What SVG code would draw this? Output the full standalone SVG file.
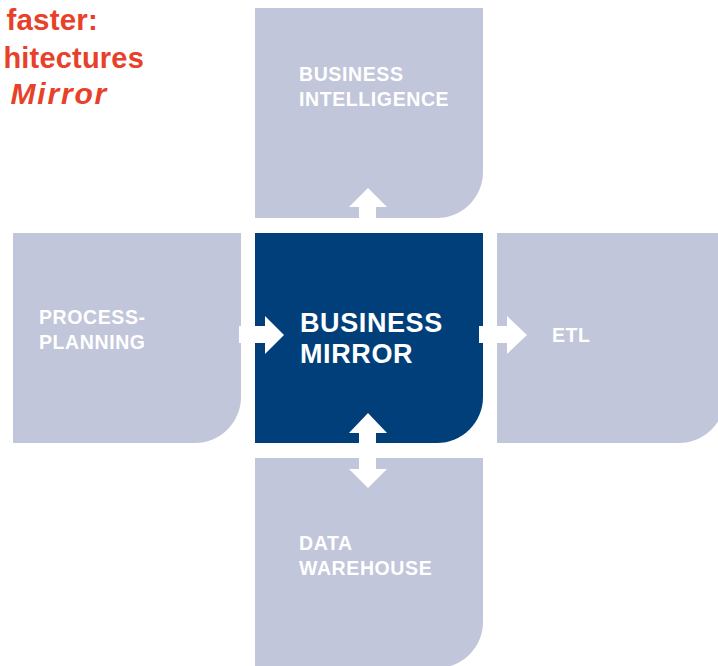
<svg xmlns="http://www.w3.org/2000/svg" width="718" height="666" viewBox="0 0 718 666">
<style>
.light{fill:#c2c6da}
.dark{fill:#003f7a}
.lbl{font-family:"Liberation Sans",Arial,sans-serif;font-weight:bold;fill:#ffffff;font-size:19.5px;letter-spacing:0.6px}
.big{font-size:27px;letter-spacing:0.6px}
.title{font-family:"Liberation Sans",Arial,sans-serif;font-weight:bold;fill:#e8412a;font-size:29.5px;letter-spacing:0.2px}
.arrow{fill:#ffffff}
</style>
<rect width="718" height="666" fill="#ffffff"/>
<g id="title">
<text class="title" x="98" y="30" text-anchor="end">faster:</text>
<text class="title" x="144" y="68" text-anchor="end" style="font-size:29px;letter-spacing:0.2px">hitectures</text>
<text class="title" x="108" y="104" text-anchor="end" style="font-style:italic;font-size:30px;letter-spacing:1.8px">Mirror</text>
</g>
<g id="business-intelligence">
<path class="light" d="M255,8 H483 V172 A46,46 0 0 1 437,218 H255 Z"/>
<text class="lbl" x="299" y="81">BUSINESS</text>
<text class="lbl" x="299" y="106">INTELLIGENCE</text>
</g>
<g id="process-planning">
<path class="light" d="M13,233 H241 V397 A46,46 0 0 1 195,443 H13 Z"/>
<text class="lbl" x="39" y="324">PROCESS-</text>
<text class="lbl" x="39" y="349">PLANNING</text>
</g>
<g id="business-mirror">
<path class="dark" d="M255,233 H483 V397 A46,46 0 0 1 437,443 H255 Z"/>
<text class="lbl big" x="300" y="332">BUSINESS</text>
<text class="lbl big" x="300" y="363">MIRROR</text>
</g>
<g id="etl">
<path class="light" d="M497,233 H725 V397 A46,46 0 0 1 679,443 H497 Z"/>
<text class="lbl" x="552" y="342">ETL</text>
</g>
<g id="data-warehouse">
<path class="light" d="M255,458 H483 V622 A46,46 0 0 1 437,668 H255 Z"/>
<text class="lbl" x="299" y="550">DATA</text>
<text class="lbl" x="299" y="575">WAREHOUSE</text>
</g>
<g id="connectors">
<polygon class="arrow" points="359,222 359,207 349,207 368,188 387,207 376,207 376,222"/>
<polygon class="arrow" points="368,413 387,433 376,433 376,469 387,469 368,488 349,469 359,469 359,433 349,433"/>
<polygon class="arrow" points="479,326 507,326 507,316 527,335 507,354 507,343 479,343"/>
<polygon class="arrow" points="239,326 265,326 265,316 284,335 265,354 265,343 239,343"/>
</g>
</svg>
